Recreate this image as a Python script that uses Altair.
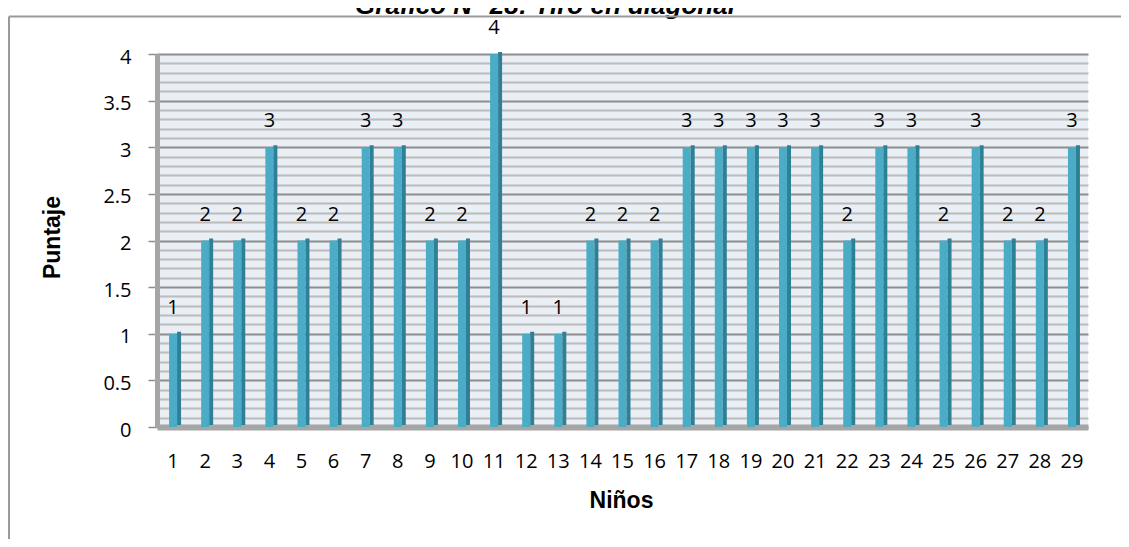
import altair as alt
import pandas as pd

ninos = list(range(1, 30))
puntaje = [1, 2, 2, 3, 2, 2, 3, 3, 2, 2, 4, 1, 1, 2, 2, 2, 3, 3, 3, 3, 3, 2, 3, 3, 2, 3, 2, 2, 3]
titulo = "Gráfico N° 28: Tiro en diagonal"
y_major = [0, 0.5, 1, 1.5, 2, 2.5, 3, 3.5, 4]
y_minor = [round(i / 10, 1) for i in range(41) if i % 5 != 0]

df = pd.DataFrame({"nino": ninos, "puntaje": puntaje})
base = alt.Chart(df)

FONT = "Open Sans"
BOLD = "Liberation Sans"

xscale = alt.Scale(paddingInner=0, paddingOuter=0)
yscale = alt.Scale(domain=[0, 4], nice=False)

xaxis = alt.Axis(
    title="Niños", titleFont=BOLD, titleFontSize=23, titleFontWeight="bold",
    titleColor="black", titleX=464, titleY=80, titleBaseline="alphabetic",
    labelAngle=0, labelFont=FONT, labelFontSize=20, labelColor="black",
    labelBaseline="middle", labelPadding=34, ticks=False,
    domainColor="#a6a6a6", domainWidth=6, grid=False,
)
yaxis = alt.Axis(
    title="Puntaje", titleFont=BOLD, titleFontSize=23, titleFontWeight="bold",
    titleColor="black", titleAngle=270, titleX=-98, titleY=183,
    titleBaseline="alphabetic", titleAlign="center",
    values=y_major, format="~g", labelFont=FONT, labelFontSize=20,
    labelColor="black", labelPadding=17, labelOffset=3,
    tickSize=9, tickColor="#8c8c8c", tickWidth=1.5,
    domainColor="#a6a6a6", domainWidth=5,
    grid=True, gridColor="#8e8e8e", gridWidth=2,
)
minor_axis = alt.Axis(
    orient="right", values=y_minor, labels=False, ticks=False, domain=False,
    title=None, grid=True, gridColor="#bcbcbc", gridWidth=2,
)

minor = base.mark_point(opacity=0).encode(
    y=alt.Y("puntaje:Q", scale=yscale, axis=minor_axis)
)

front = base.mark_bar(size=8, color="#4bacc6").encode(
    x=alt.X("nino:O", scale=xscale, axis=xaxis, sort="ascending"),
    y=alt.Y("puntaje:Q", scale=yscale, axis=yaxis),
)
side = base.mark_bar(size=4, color="#2f7f96", xOffset=6, yOffset=-2).encode(
    x=alt.X("nino:O"), y=alt.Y("puntaje:Q", axis=None),
)
labels = base.mark_text(
    dy=-20, baseline="alphabetic", font=FONT, fontSize=20, color="black"
).encode(
    x=alt.X("nino:O"), y=alt.Y("puntaje:Q", axis=None),
    text=alt.Text("puntaje:Q"),
)

one = alt.Chart(pd.DataFrame({"titulo": [titulo]}))
title_mark = one.mark_text(
    font=BOLD, fontSize=26, fontWeight="bold", fontStyle="italic",
    baseline="alphabetic", align="center", color="black"
).encode(text="titulo:N", x=alt.value(388), y=alt.value(-40))
frame_left = one.mark_rule(color="#9a9a9a", strokeWidth=2).encode(
    x=alt.value(-148), y=alt.value(-37.5), y2=alt.value(485)
)
frame_top = one.mark_rule(color="#9a9a9a", strokeWidth=2).encode(
    x=alt.value(-148), x2=alt.value(964), y=alt.value(-37.5)
)

chart = (
    alt.layer(minor, front, side, labels)
    .resolve_axis(y="independent")
)
chart = alt.layer(chart, title_mark, frame_left, frame_top).properties(
    width=931, height=373,
    autosize=alt.AutoSizeParams(type="none"),
    padding={"left": 149, "top": 46, "right": 33, "bottom": 112},
).configure_view(fill="#e9eff5", stroke=None)

chart.save("out.html", embed_options={"renderer": "svg", "actions": False})
